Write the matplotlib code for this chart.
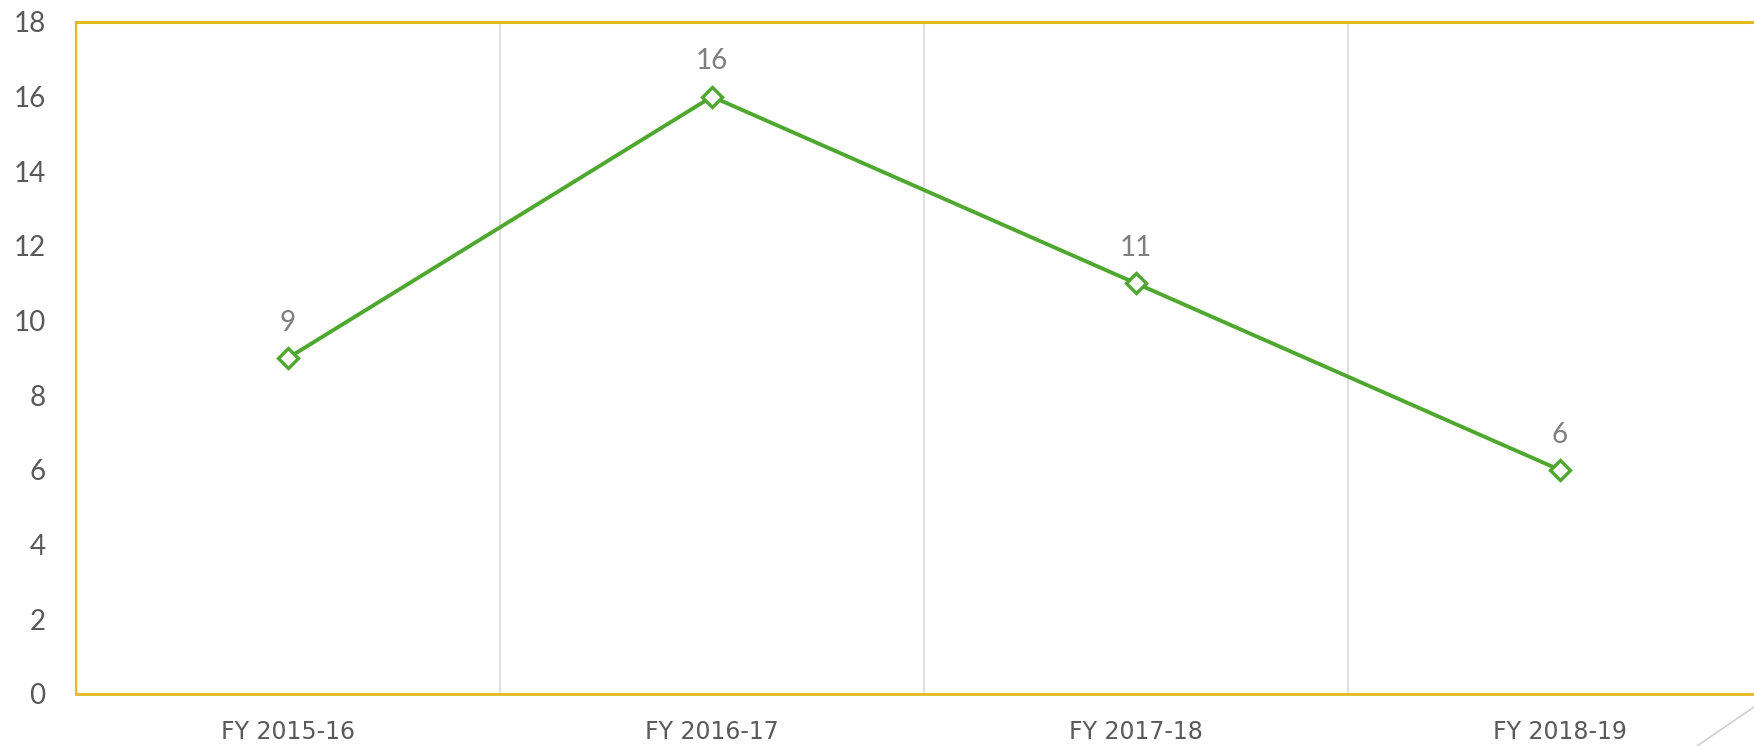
import matplotlib.pyplot as plt
from matplotlib.lines import Line2D

categories = ["FY 2015-16", "FY 2016-17", "FY 2017-18", "FY 2018-19"]
values = [9, 16, 11, 6]
y_ticks = [0, 2, 4, 6, 8, 10, 12, 14, 16, 18]

green = "#4EA72E"
gold = "#E6B91E"
grid_gray = "#D9D9D9"
text_gray = "#595959"
label_gray = "#7F7F7F"

plt.rcParams['font.family'] = ['Lato', 'DejaVu Sans']

fig = plt.figure(figsize=(17.54, 7.46), dpi=100)
# axes runs past the right edge of the figure, like the cropped original
ax = fig.add_axes([76 / 1754, 52 / 746, 1696 / 1754, 672 / 746])

x = list(range(len(categories)))
ax.plot(x, values, color=green, linewidth=2.8, marker="D", markersize=10,
        markerfacecolor="white", markeredgecolor=green, markeredgewidth=2.4, zorder=3)

for xi, v in zip(x, values):
    ax.annotate(str(v), (xi, v), xytext=(0, 16), textcoords="offset points",
                ha="center", va="bottom", fontsize=20, color=label_gray)

ax.set_xlim(-0.5, len(categories) - 0.5)
ax.set_ylim(0, 18)
ax.set_yticks(y_ticks)
ax.set_xticks(x)
ax.set_xticklabels(categories)

# vertical gridlines between categories
for b in [0.5, 1.5, 2.5]:
    ax.axvline(b, color=grid_gray, linewidth=1.2, zorder=1)

ax.tick_params(axis="y", length=0, pad=22, labelsize=20, labelcolor=text_gray)
ax.tick_params(axis="x", length=0, pad=19, labelcolor=text_gray)
# the original labels are letter-spaced; a wide face gets closer to that width
for lbl in ax.get_xticklabels():
    lbl.set_fontfamily("DejaVu Sans")
    lbl.set_fontsize(17)

for side in ["top", "left", "bottom", "right"]:
    ax.spines[side].set_color(gold)
ax.spines["top"].set_linewidth(2.2)
ax.spines["left"].set_linewidth(1.5)
ax.spines["bottom"].set_linewidth(2.0)
ax.spines["right"].set_visible(False)

# inner gray line beside the left border
ax.axvline(-0.5, color="#BFBFBF", linewidth=1.0, zorder=2)

# decorative diagonal stroke in the bottom right corner
fig.add_artist(Line2D([1697 / 1754, 1.0], [0.0, 39 / 746], transform=fig.transFigure,
                      color="#D0D0D0", linewidth=1.2))

fig.savefig("out.png", dpi=100)
